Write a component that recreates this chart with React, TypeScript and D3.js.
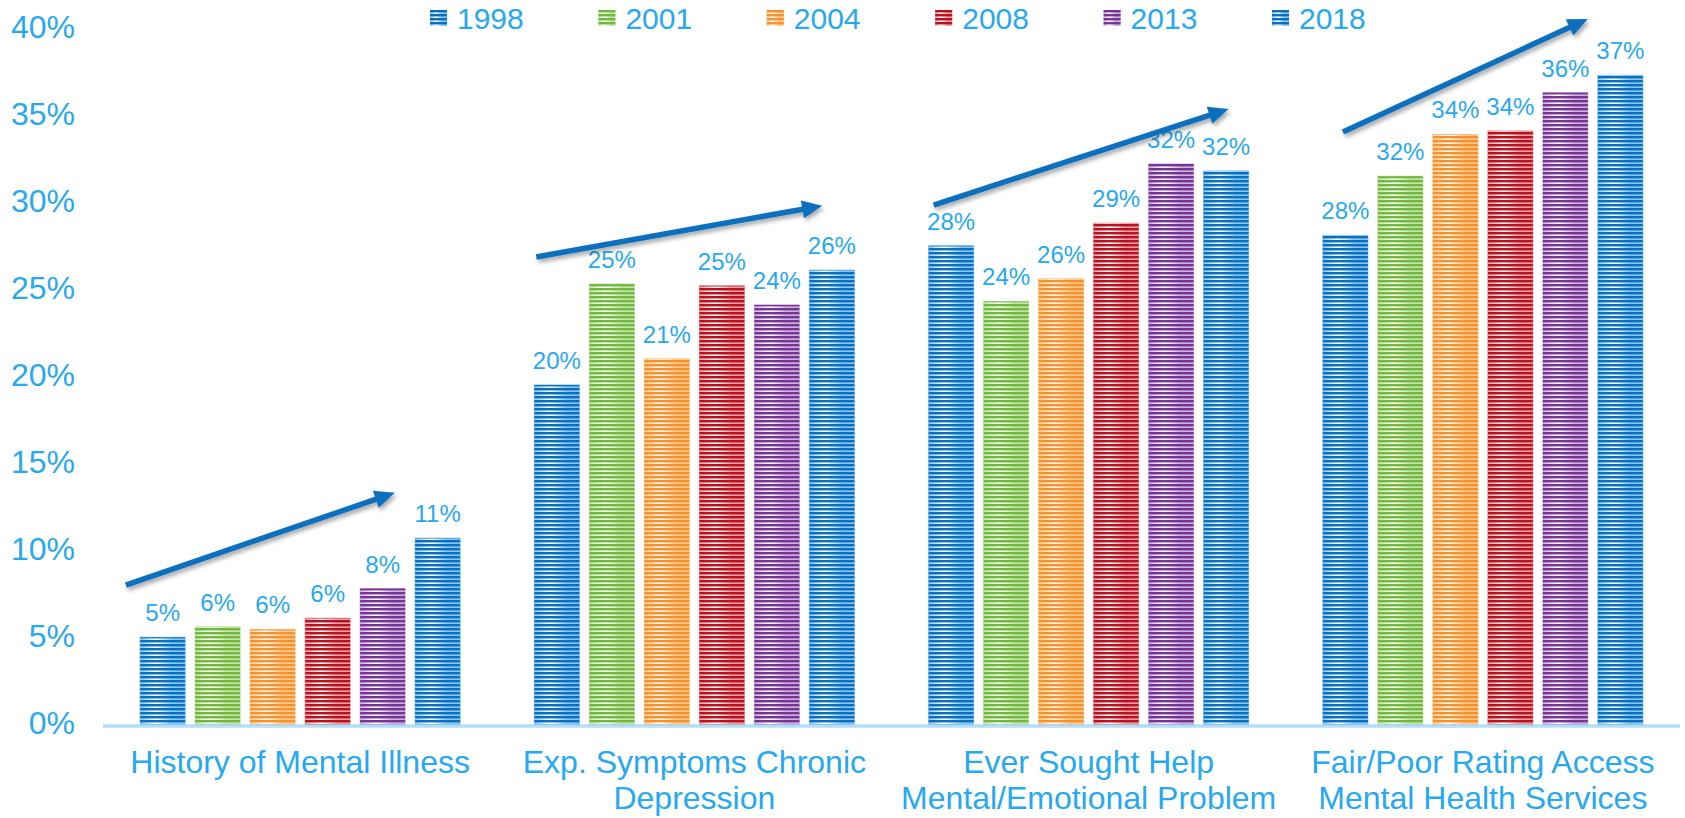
import React from "react";
import * as d3 from "d3";

const categories = [
  ["History of Mental Illness"],
  ["Exp. Symptoms Chronic", "Depression"],
  ["Ever Sought Help", "Mental/Emotional Problem"],
  ["Fair/Poor Rating Access", "Mental Health Services"],
];
const years = ["1998", "2001", "2004", "2008", "2013", "2018"];
const v1998 = [5.1, 19.6, 27.6, 28.2];
const v2001 = [5.7, 25.4, 24.4, 31.6];
const v2004 = [5.55, 21.1, 25.7, 34.0];
const v2008 = [6.2, 25.3, 28.9, 34.2];
const v2013 = [7.9, 24.2, 32.3, 36.4];
const v2018 = [10.8, 26.2, 31.9, 37.4];
const seriesValues = [v1998, v2001, v2004, v2008, v2013, v2018];
const yTicks = [0, 5, 10, 15, 20, 25, 30, 35, 40];

// trend arrows (annotation): category index, start/end along band (fraction), start/end value
const arrowCategory = [0, 1, 2, 3];
const arrowFromFrac = [0.058, 0.099, 0.107, 0.145];
const arrowToFrac = [0.74, 0.824, 0.855, 0.766];
const arrowFromValue = [8.1, 26.95, 29.94, 34.14];
const arrowToValue = [13.4, 29.9, 35.46, 40.63];

const darkColors = ["#0870c2", "#72b83c", "#f7912a", "#bb111e", "#763595", "#0870c2"];
const lightColors = ["#8cc6ef", "#c6e4b0", "#fcc996", "#eba0a6", "#cdb3dc", "#8cc6ef"];
const textColor = "#27a8f2";
const FONT = "'Liberation Sans', Arial, sans-serif";

export default function App() {
  const W = 1685;
  const H = 818;
  const left = 103;
  const right = 1680;
  const x0 = d3.scaleBand<number>().domain(d3.range(categories.length)).range([left, right]).padding(0);
  const y = d3.scaleLinear().domain([0, 40]).range([726, 30]);
  const groupW = 320;
  const x1 = d3
    .scaleBand<string>()
    .domain(years)
    .range([(x0.bandwidth() - groupW) / 2, (x0.bandwidth() + groupW) / 2])
    .paddingInner(10 / 55)
    .paddingOuter(0);
  const fmt = (v: number) => d3.format(".0f")(v) + "%";

  const legendX = d3.scaleLinear().domain([0, 5]).range([430, 1272]);

  return (
    <svg width={W} height={H} style={{ position: "absolute", left: 0, top: 0, fontFamily: FONT }}>
      <defs>
        {darkColors.map((c, i) => (
          <React.Fragment key={i}>
            <pattern id={`stripe-${i}`} width={8} height={4} patternUnits="userSpaceOnUse">
              <rect x={0} y={0} width={8} height={2.4} fill={c} />
            </pattern>
            <linearGradient id={`grad-${i}`} x1="0" x2="1" y1="0" y2="0">
              <stop offset="0" stopColor={lightColors[i]} />
              <stop offset="0.35" stopColor="#ffffff" stopOpacity={0.85} />
              <stop offset="0.7" stopColor={lightColors[i]} />
              <stop offset="1" stopColor={lightColors[i]} />
            </linearGradient>
          </React.Fragment>
        ))}
        <filter id="shadow" x="-10%" y="-50%" width="120%" height="200%">
          <feDropShadow dx={2} dy={3} stdDeviation={2} floodColor="#000" floodOpacity={0.35} />
        </filter>
      </defs>

      {/* y tick labels */}
      {yTicks.map((t) => (
        <text
          key={t}
          x={75}
          y={y(t)}
          textAnchor="end"
          dominantBaseline="middle"
          fontSize={32}
          fill={textColor}
        >
          {t + "%"}
        </text>
      ))}

      {/* bars */}
      {categories.map((_, ci) => (
        <g key={ci} transform={`translate(${x0(ci)},0)`}>
          {years.map((yr, si) => {
            const v = seriesValues[si][ci];
            const bx = x1(yr)!;
            const bw = x1.bandwidth();
            const top = y(v);
            const h = y(0) - top;
            return (
              <g key={yr}>
                <rect x={bx} y={top} width={bw} height={h} fill={`url(#grad-${si})`} stroke={lightColors[si]} strokeWidth={1} />
                <rect x={bx} y={top} width={bw} height={h} fill={`url(#stripe-${si})`} />
                <text
                  x={bx + bw / 2}
                  y={top - 16}
                  textAnchor="middle"
                  fontSize={24}
                  fill={textColor}
                >
                  {fmt(v)}
                </text>
              </g>
            );
          })}
        </g>
      ))}

      {/* x axis line */}
      <line x1={left} x2={right} y1={y(0)} y2={y(0)} stroke="#b3defa" strokeWidth={3.5} />

      {/* category labels */}
      {categories.map((lines, ci) => (
        <text key={ci} textAnchor="middle" fontSize={32} fill={textColor}>
          {lines.map((ln, li) => (
            <tspan key={li} x={x0(ci)! + x0.bandwidth() / 2} y={773 + li * 36}>
              {ln}
            </tspan>
          ))}
        </text>
      ))}

      {/* arrows */}
      {arrowCategory.map((ci, i) => {
        const bx = x0(ci)!;
        const bw = x0.bandwidth();
        const sx = bx + arrowFromFrac[i] * bw;
        const sy = y(arrowFromValue[i]);
        const ex = bx + arrowToFrac[i] * bw;
        const ey = y(arrowToValue[i]);
        const ang = Math.atan2(ey - sy, ex - sx);
        const headL = 20;
        const headW = 9;
        const baseX = ex - headL * Math.cos(ang);
        const baseY = ey - headL * Math.sin(ang);
        const px = -Math.sin(ang) * headW;
        const py = Math.cos(ang) * headW;
        return (
          <g key={i} filter="url(#shadow)">
            <line x1={sx} y1={sy} x2={baseX + 2 * Math.cos(ang)} y2={baseY + 2 * Math.sin(ang)} stroke="#0b70bf" strokeWidth={5.5} />
            <path
              d={`M${ex},${ey}L${baseX + px},${baseY + py}L${baseX - px},${baseY - py}Z`}
              fill="#0b70bf"
            />
          </g>
        );
      })}

      {/* legend */}
      {years.map((yr, i) => (
        <g key={yr} transform={`translate(${legendX(i)},10)`}>
          <rect x={0} y={0} width={17} height={16} fill={`url(#grad-${i})`} />
          <rect x={0} y={0} width={17} height={16} fill={`url(#stripe-${i})`} />
          <text x={27} y={19} fontSize={30} fill={textColor}>
            {yr}
          </text>
        </g>
      ))}
    </svg>
  );
}
